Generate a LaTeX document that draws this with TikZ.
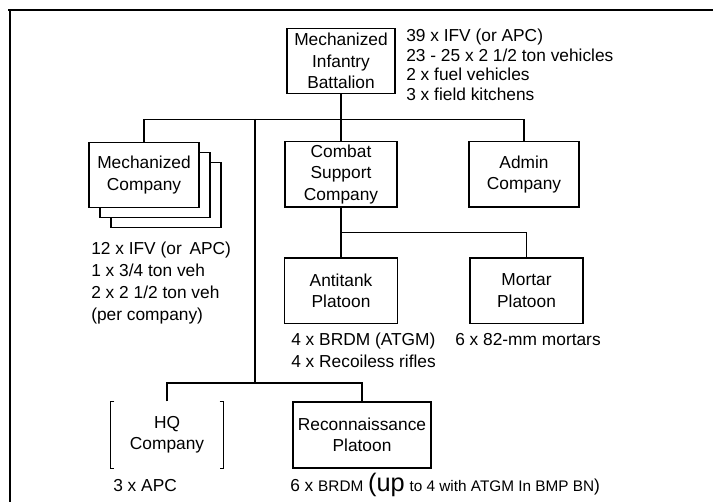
\documentclass[tikz,border=0pt]{standalone}
\usepackage{fontspec}
\setmainfont{Liberation Sans}
\usetikzlibrary{positioning}

\begin{document}
\begin{tikzpicture}[x=0.75pt,y=-0.75pt,
    unit/.style={draw,line width=1pt,fill=white,minimum width=#1,minimum height=49pt,
      inner sep=0pt,align=center,font=\fontsize{13}{16}\selectfont},
    info/.style={anchor=north west,align=left,inner sep=0pt,font=\fontsize{13}{16.3}\selectfont},
    wire/.style={line width=1pt}]
  \useasboundingbox (0,0) rectangle (713,502);
  % frame
  \draw[line width=2.2pt] (8,10) -- (713,10);
  \draw[line width=1.5pt] (10,10) -- (10,502);

  \node[unit=81pt] (bn) at (341,61) {Mechanized\\Infantry\\Battalion};
  \node[unit=82.5pt] (mc3) at (166,195) {};
  \node[unit=82.5pt] (mc2) at (155,185) {};
  \node[unit=82.5pt] (mc) at (144,175) {Mechanized\\Company};
  \node[unit=84pt] (cs) at (341,174.5) {Combat\\Support\\Company};
  \node[unit=82.5pt] (admin) at (524,174.5) {Admin\\Company};
  \node[unit=84.75pt] (at) at (341,290.5) {Antitank\\Platoon};
  \node[unit=84.75pt] (mo) at (526.5,290.5) {Mortar\\Platoon};
  \node[unit=84pt,draw=none,fill=none,minimum height=49.5pt] (hq) at (167,435) {HQ\\Company};
  \node[unit=103.5pt,minimum height=49.5pt] (recon) at (362,435) {Reconnaissance\\Platoon};

  % hq box only shows its sides
  \draw[wire] ([xshift=3pt]hq.north west) -- (hq.north west) -- (hq.south west) -- ++(4,0);
  \draw[wire] ([xshift=-3pt]hq.north east) -- (hq.north east) -- (hq.south east) -- ++(-4,0);

  % buses
  \draw[wire] (bn.south) -- ++(0,25) coordinate (bus);
  \draw[wire] (mc.north) |- (bus) -| (admin.north);
  \draw[wire] (bus) -- (cs.north);
  \coordinate (spinetop) at (255,119);
  \coordinate (spinemid) at (255,323);
  \coordinate (spine) at (255,383);
  \draw[line width=1.5pt] (spinetop) -- (spinemid);
  \draw[wire] (spinemid) -- (spine);
  \draw[wire] (hq.north) |- (spine) -| (recon.north);
  \draw[wire] (cs.south) -- (at.north);
  \path (cs.south) -- (at.north) coordinate[pos=0.5] (sub);
  \draw[wire] (sub) -| (mo.north);

  % equipment
  \node[info,font=\fontsize{13}{14.6}\selectfont] (bninfo) at (406,29)
    {39 x IFV (or APC)\\23 - 25 x 2 1/2 ton vehicles\\2 x fuel vehicles\\3 x field kitchens};
  \node[info] (mcinfo) at (91,242)
    {12 x IFV (or \,APC)\\1 x 3/4 ton veh\\2 x 2 1/2 ton veh\\(per company)};
  \node[info,font=\fontsize{13}{16.5}\selectfont] (atinfo) at (291,333)
    {4 x BRDM (ATGM)\\4 x Recoiless rifles};
  \node[info] (moinfo) at (455,333) {6 x 82-mm mortars};
  \node[info,anchor=base west] (hqinfo) at (113,491) {3 x APC};
  \node[info,anchor=base west] (reconinfo) at (290,491)
    {6 x {\fontsize{11.5}{12}\selectfont BRDM} {\fontsize{19}{20}\selectfont (up}
     {\fontsize{11.5}{12}\selectfont to 4 with ATGM In BMP BN})};
\end{tikzpicture}
\end{document}
